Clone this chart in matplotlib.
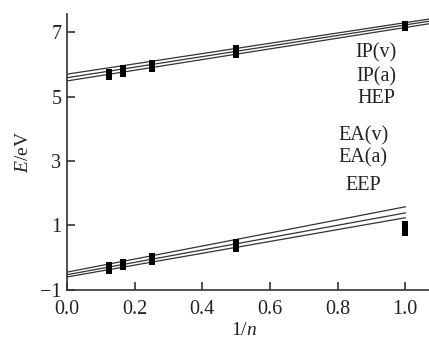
import numpy as np
import matplotlib
matplotlib.use("Agg")
import matplotlib.pyplot as plt

plt.rcParams['font.family'] = ['Liberation Serif', 'DejaVu Serif']
plt.rcParams['mathtext.fontset'] = 'custom'
plt.rcParams['mathtext.it'] = 'Liberation Serif:italic'
plt.rcParams['mathtext.rm'] = 'Liberation Serif'

# data
inv_n = [1/8, 1/6, 1/4, 1/2, 1.0]
IP_v = [5.78, 5.88, 6.05, 6.50, 7.26]
IP_a = [5.70, 5.80, 5.96, 6.40, 7.19]
HEP = [5.62, 5.72, 5.87, 6.30, 7.12]
EA_v = [-0.24, -0.15, 0.04, 0.50, 1.05]
EA_a = [-0.32, -0.22, -0.05, 0.40, 0.92]
EEP = [-0.40, -0.30, -0.14, 0.28, 0.78]

# fitted lines (intercept, slope)
ip_intercepts = [5.70, 5.59, 5.49]
ip_slopes = [1.60, 1.64, 1.66]
ea_intercepts = [-0.45, -0.53, -0.60]
ea_slopes = [2.03, 1.92, 1.84]
ip_xrange = [0.0, 1.07]
ea_xrange = [0.0, 1.0]

labels_ip = ["IP(v)", "IP(a)", "HEP"]
labels_ea = ["EA(v)", "EA(a)", "EEP"]

fig = plt.figure(figsize=(4.29, 3.41), dpi=100)
ax = fig.add_axes([0.156, 0.150, 0.844, 0.809])

for b, m in zip(ip_intercepts, ip_slopes):
    xs = np.array(ip_xrange)
    ax.plot(xs, b + m * xs, color='#333333', lw=0.9)
for b, m in zip(ea_intercepts, ea_slopes):
    xs = np.array(ea_xrange)
    ax.plot(xs, b + m * xs, color='#333333', lw=0.9)

for ser in (IP_v, IP_a, HEP, EA_v, EA_a, EEP):
    ax.plot(inv_n, ser, ls='none', marker='s', ms=4.3, color='black', mew=0)

ax.set_xlim(0, 1.07)
ax.set_ylim(-1, 7.57)
ax.set_xticks([0.0, 0.2, 0.4, 0.6, 0.8, 1.0])
ax.set_xticklabels(['0.0', '0.2', '0.4', '0.6', '0.8', '1.0'])
ax.set_yticks([-1, 1, 3, 5, 7])
ax.set_yticklabels(['\u22121', '1', '3', '5', '7'])
for s in ('top', 'right'):
    ax.spines[s].set_visible(False)
for s in ('left', 'bottom'):
    ax.spines[s].set_linewidth(1.2)
    ax.spines[s].set_color('#333333')
ax.tick_params(direction='in', length=6, width=1.2, color='#333333',
               labelsize=14.5, labelcolor='#222222')
ax.tick_params(axis='x', pad=7)
ax.tick_params(axis='y', pad=4)

ax.set_xlabel('1/$\\mathit{n}$', fontsize=14, color='#222222')
ax.xaxis.set_label_coords(0.49, -0.117)
ax.set_ylabel('$\\mathit{E}$/eV', fontsize=14, color='#222222')
ax.yaxis.set_label_coords(-0.097, 0.5)

ip_y = [0.859, 0.772, 0.692]
ea_y = [0.558, 0.478, 0.380]
for t, yy in zip(labels_ip, ip_y):
    ax.text(0.854, yy, t, transform=ax.transAxes,
            ha='center', va='center', fontsize=14.5, color='#222222')
for t, yy in zip(labels_ea, ea_y):
    ax.text(0.818, yy, t, transform=ax.transAxes,
            ha='center', va='center', fontsize=14.5, color='#222222')

fig.savefig('out.png', dpi=100)
